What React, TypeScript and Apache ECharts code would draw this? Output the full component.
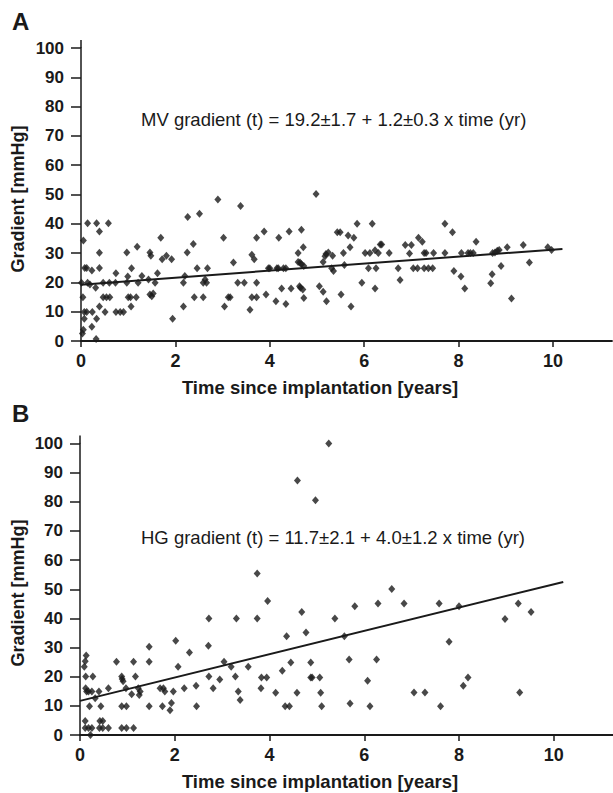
import React, { useEffect, useRef } from "react";
import * as echarts from "echarts";

// Panel A: MV gradient scatter (years, mmHg)
const mvPoints: [number, number][] = [
  [0.03, 2.6], [0.05, 3.8], [0.04, 14.9], [0.05, 34.3], [0.01, 19.9], [0.08, 24.9], [0.12, 24.9],
  [0.14, 40.2], [0.07, 9.9], [0.12, 9.9], [0.24, 9.9], [0.07, 7.6], [0.14, 19.9], [0.19, 19.3],
  [0.23, 24.1], [0.23, 4.9], [0.33, 40.2], [0.39, 37.4], [0.39, 30.1], [0.39, 24.9], [0.31, 18.2],
  [0.33, 7.6], [0.39, 11.8], [0.32, 0.7], [0.58, 40.2], [0.47, 19.9], [0.6, 19.9], [0.47, 14.9],
  [0.54, 14.9], [0.61, 14.9], [0.51, 9.9], [0.74, 23.1], [0.73, 19.9], [0.74, 9.9], [0.83, 9.9],
  [0.9, 9.9], [0.97, 30.2], [0.99, 22], [0.97, 19.9], [1.0, 14.9], [1.05, 14.9], [1.17, 14.9],
  [1.07, 24.8], [1.06, 11.8], [1.19, 32.2], [1.21, 19.9], [1.29, 22.2], [1.43, 21], [1.46, 30.2],
  [1.48, 29.1], [1.46, 15.9], [1.5, 15.3], [1.53, 16.2], [1.57, 19.9], [1.62, 23.1], [1.69, 35.2],
  [1.72, 27.9], [1.81, 29.1], [1.92, 27.9], [1.94, 7.6], [2.17, 19.9], [2.2, 22.2], [2.17, 11.8],
  [2.26, 42.3], [2.25, 30.2], [2.38, 33.1], [2.4, 14.9], [2.46, 24.8], [2.51, 43.4], [2.59, 14.9],
  [2.59, 19.9], [2.63, 21], [2.66, 19.9], [2.68, 24.8], [2.9, 48.3], [3.02, 35.2], [3.04, 11.8],
  [3.12, 14.9], [3.16, 14.9], [3.23, 26.8], [3.32, 19.9], [3.46, 19.9], [3.38, 46.1], [3.58, 10.7],
  [3.62, 29.4], [3.62, 14.9], [3.72, 14.9], [3.72, 35.2], [3.67, 27.9], [3.72, 19.9],
  [3.88, 37.4], [3.92, 15.9], [3.97, 24.8], [4.0, 24.8], [4.15, 24.8], [4.18, 24.8], [4.29, 24.8],
  [4.34, 24.8], [4.13, 13.6], [4.19, 35.2], [4.25, 17.9], [4.34, 12.6], [4.41, 37.4], [4.45, 17.9],
  [4.6, 30], [4.6, 27], [4.64, 26.8], [4.67, 26.2], [4.72, 25.6], [4.63, 18.7], [4.65, 18.2],
  [4.7, 17.6], [4.67, 38], [4.71, 32], [4.72, 14.7], [4.98, 50.2], [5.05, 18.7], [5.13, 27],
  [5.19, 29.7], [5.17, 28.9], [5.24, 30.2], [5.13, 16.8], [5.2, 13.6], [5.33, 29.1], [5.31, 24.8],
  [5.35, 23.9], [5.43, 37.1], [5.49, 37.1], [5.56, 30], [5.51, 15.9], [5.58, 25.9], [5.66, 36],
  [5.7, 32], [5.72, 11.8], [5.78, 35.2], [5.85, 40], [5.95, 19.9], [6.02, 30], [6.12, 30],
  [6.09, 24.8], [6.17, 40], [6.23, 31], [6.3, 30], [6.25, 24.8], [6.23, 17.9], [6.34, 32.9],
  [6.37, 32.9], [6.53, 30], [6.72, 24.8], [6.76, 20.8], [6.87, 32.8], [6.96, 29.9], [7.0, 32.8],
  [7.04, 24.8], [7.13, 24.8], [7.15, 35.2], [7.23, 33.9], [7.27, 30], [7.31, 30], [7.27, 24.8],
  [7.36, 24.8], [7.45, 24.8], [7.47, 30], [7.71, 40], [7.71, 30], [7.87, 37.1], [7.9, 23.9],
  [8.05, 22], [8.06, 30], [8.13, 17.9], [8.2, 30], [8.25, 30], [8.31, 30], [8.37, 33.9],
  [8.68, 19.7], [8.71, 22.8], [8.72, 30], [8.77, 30.2], [8.82, 30.8], [8.86, 31.1], [8.9, 25.6],
  [9.03, 32], [9.12, 14.5], [9.37, 32.8], [9.5, 26.8], [9.89, 32], [9.97, 31.1],
];

// Panel B: HG gradient scatter (years, mmHg)
const hgPoints: [number, number][] = [
  [0.13, 27.3], [0.11, 25.3], [0.09, 23.4], [0.12, 20.1], [0.12, 16], [0.14, 14.9], [0.18, 14.9],
  [0.27, 20.1], [0.25, 14.9], [0.32, 12.6], [0.4, 14.9], [0.2, 9.9], [0.11, 4.8], [0.11, 2.4],
  [0.18, 2.4], [0.25, 2.4], [0.22, 0], [0.44, 9.9], [0.42, 4.8], [0.48, 4.8], [0.41, 2.4],
  [0.48, 2.4], [0.6, 2.4], [0.6, 16], [0.77, 25.1], [0.88, 20.1], [0.89, 19.2], [0.91, 18.4],
  [0.88, 9.9], [0.98, 9.9], [0.88, 2.4], [0.98, 2.4], [1.13, 2.4], [0.97, 16], [1.09, 14],
  [1.13, 25.1], [1.17, 20.1], [1.23, 16], [1.27, 14.9], [1.25, 13.7], [1.46, 30.3], [1.46, 25.1],
  [1.46, 9.9], [1.69, 16], [1.76, 16], [1.79, 14.9], [1.74, 9.9], [1.9, 8.5], [1.93, 11],
  [1.97, 14.9], [2.02, 32.3], [2.07, 23.4], [2.2, 16], [2.31, 28.3], [2.45, 16.9], [2.46, 9.9],
  [2.71, 30.6], [2.72, 20.1], [2.81, 16], [2.95, 19], [3.04, 25.1], [3.19, 23.4], [3.28, 20.1],
  [3.34, 14.9], [3.38, 12], [3.55, 23.4], [2.72, 40], [3.3, 40],
  [5.25, 100], [4.59, 87.3], [4.97, 80.5], [3.74, 55.4], [3.96, 46], [3.74, 40], [4.68, 42.2],
  [4.77, 35.2], [4.36, 33.9], [5.38, 40], [5.58, 33.9], [5.8, 44.2], [6.29, 45.1], [6.58, 50.1],
  [6.84, 45.1], [3.83, 19.7], [3.94, 19.7], [3.82, 16], [4.13, 14.5], [4.27, 22], [4.45, 24.9],
  [4.33, 9.9], [4.42, 9.9], [4.58, 14.5], [4.87, 24.9], [4.87, 19.7], [4.9, 19.7], [5.06, 19.7],
  [5.08, 14.5], [5.1, 9.9], [5.68, 25.9], [5.7, 10.8], [6.07, 18.6], [6.12, 9.9], [6.26, 25.9],
  [7.58, 45.1], [8.0, 44.2], [7.79, 32], [7.05, 14.6], [7.28, 14.6], [7.61, 9.9], [8.09, 16.9],
  [8.19, 19.7], [8.97, 39.8], [9.25, 45.1], [9.52, 42.2], [9.28, 14.6],
];

// Regression fits printed on the chart
const fitIntercepts = [19.2, 11.7];
const fitSlopes = [1.2, 4.0];
const fitEnds = [10.2, 10.2];

// Axis ticks
const xTickValues = [0, 2, 4, 6, 8, 10];
const xMax = 11.25;

const panelLetters = ["A", "B"];
const equations = [
  "MV gradient (t) = 19.2±1.7 + 1.2±0.3 x time (yr)",
  "HG gradient (t) = 11.7±2.1 + 4.0±1.2 x time (yr)",
];
const xTitle = "Time since implantation [years]";
const yTitle = "Gradient [mmHg]";

const FONT = "'Liberation Sans', Arial, Helvetica, sans-serif";
const INK = "#1a1a1a";

const grids = [
  { left: 81, top: 48, height: 293, width: 47.2 * xMax },
  { left: 80, top: 443.5, height: 291.5, width: 47.4 * xMax },
];

function fitLine(i: number): [number, number][] {
  return [
    [0, fitIntercepts[i]],
    [fitEnds[i], fitIntercepts[i] + fitSlopes[i] * fitEnds[i]],
  ];
}

export default function App() {
  const ref = useRef<HTMLDivElement>(null);

  useEffect(() => {
    if (!ref.current) return;
    const chart = echarts.init(ref.current, undefined, { renderer: "svg" });

    const xAxisBase = (gridIndex: number) => ({
      type: "value" as const,
      gridIndex,
      min: 0,
      max: xMax,
      splitLine: { show: false },
      axisLine: { show: true, onZero: false, lineStyle: { color: INK, width: 1.8 } },
      axisTick: {
        show: true,
        inside: false,
        length: 6,
        customValues: xTickValues,
        lineStyle: { color: INK, width: 1.5 },
      },
      axisLabel: {
        margin: 11,
        color: INK,
        fontFamily: FONT,
        fontWeight: "bold" as const,
        fontSize: 18,
        customValues: xTickValues,
      },
    });
    const yAxisBase = (gridIndex: number) => ({
      type: "value" as const,
      gridIndex,
      min: 0,
      max: 100,
      interval: 10,
      splitLine: { show: false },
      axisLine: { show: true, onZero: false, lineStyle: { color: INK, width: 1.5 } },
      axisTick: { show: true, inside: false, length: 10, lineStyle: { color: INK, width: 1.5 } },
      axisLabel: {
        margin: 17,
        color: INK,
        fontFamily: FONT,
        fontWeight: "bold" as const,
        fontSize: 17,
      },
    });

    const scatterStyle = {
      symbol: "diamond",
      symbolSize: [7, 8],
      itemStyle: { color: INK },
    };

    const textEls: any[] = [];
    const titleYs = [387, 781];
    const yNameYs = [199, 593];
    const eqYs = [119, 537];
    const letterYs = [21, 413];
    for (let i = 0; i < 2; i++) {
      textEls.push({
        type: "text",
        x: 320,
        y: titleYs[i],
        style: {
          text: xTitle,
          align: "center",
          verticalAlign: "middle",
          fill: INK,
          font: `bold 18.5px ${FONT}`,
        },
      });
      textEls.push({
        type: "text",
        x: 18,
        y: yNameYs[i],
        rotation: Math.PI / 2,
        style: {
          text: yTitle,
          align: "center",
          verticalAlign: "middle",
          fill: INK,
          font: `bold 18px ${FONT}`,
        },
      });
      textEls.push({
        type: "text",
        x: 141,
        y: eqYs[i],
        style: {
          text: equations[i],
          align: "left",
          verticalAlign: "middle",
          fill: INK,
          font: `18.5px ${FONT}`,
        },
      });
      textEls.push({
        type: "text",
        x: 12,
        y: letterYs[i],
        style: {
          text: panelLetters[i],
          align: "left",
          verticalAlign: "middle",
          fill: INK,
          font: `bold 24px ${FONT}`,
        },
      });
      // small extension of the y axis line above 100
      textEls.push({
        type: "line",
        shape: { x1: grids[i].left, y1: grids[i].top - 8, x2: grids[i].left, y2: grids[i].top },
        style: { stroke: INK, lineWidth: 1.5 },
      });
    }

    chart.setOption({
      animation: false,
      backgroundColor: "#ffffff",
      grid: grids.map((g) => ({ ...g, containLabel: false })),
      xAxis: [xAxisBase(0), xAxisBase(1)],
      yAxis: [yAxisBase(0), yAxisBase(1)],
      graphic: textEls,
      series: [
        { type: "scatter", xAxisIndex: 0, yAxisIndex: 0, data: mvPoints, ...scatterStyle },
        {
          type: "line",
          xAxisIndex: 0,
          yAxisIndex: 0,
          data: fitLine(0),
          symbol: "none",
          lineStyle: { color: INK, width: 2 },
        },
        { type: "scatter", xAxisIndex: 1, yAxisIndex: 1, data: hgPoints, ...scatterStyle },
        {
          type: "line",
          xAxisIndex: 1,
          yAxisIndex: 1,
          data: fitLine(1),
          symbol: "none",
          lineStyle: { color: INK, width: 2 },
        },
      ],
    });

    return () => chart.dispose();
  }, []);

  return (
    <div
      ref={ref}
      style={{ position: "absolute", left: 0, top: 0, width: 613, height: 793, background: "#fff" }}
    />
  );
}
